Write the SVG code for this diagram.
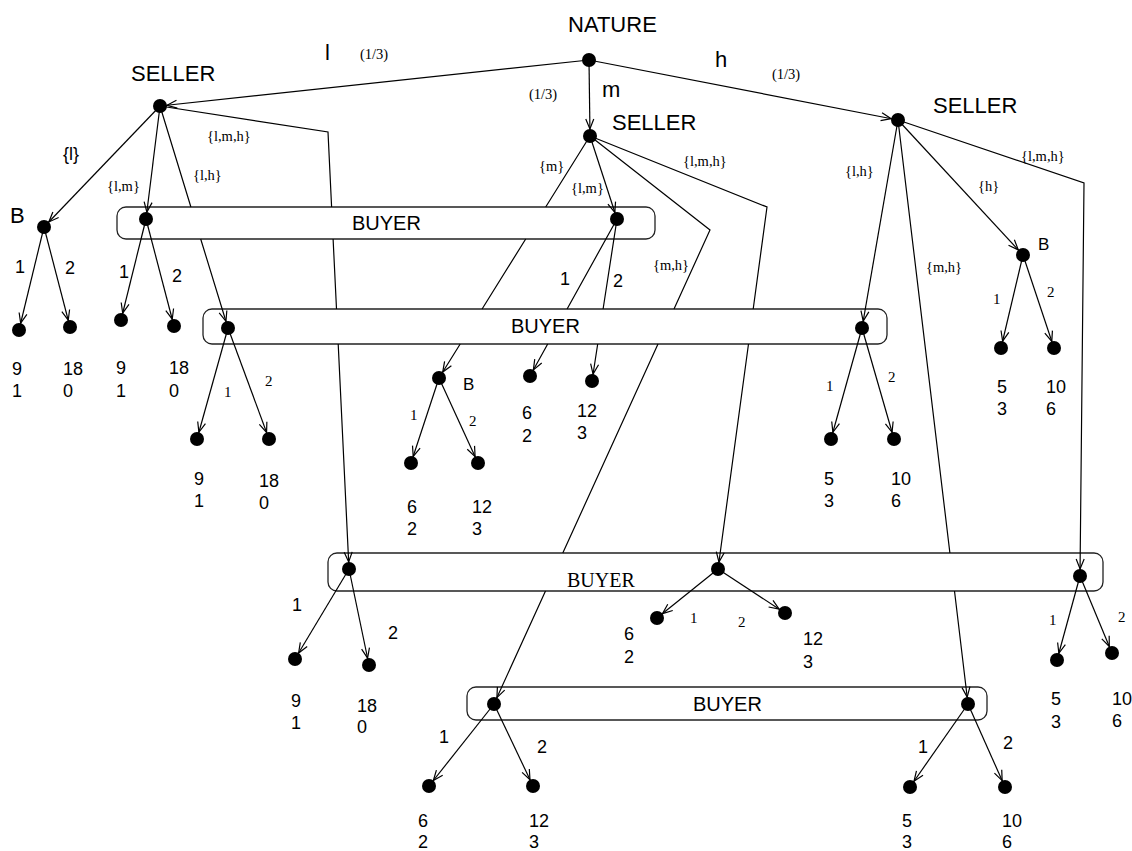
<svg xmlns="http://www.w3.org/2000/svg" width="1132" height="851" viewBox="0 0 1132 851">
<style>
.e{fill:none;stroke:#000;stroke-width:1.2}
.a{fill:none;stroke:#000;stroke-width:1.2;marker-end:url(#arr)}
.n{fill:#000}
.box{fill:none;stroke:#222;stroke-width:1.3}
.big{font-family:"Liberation Sans",Arial,sans-serif;font-size:22px;fill:#000}
.mid{font-family:"Liberation Sans",Arial,sans-serif;font-size:18px;fill:#000}
.buy{font-family:"Liberation Sans",Arial,sans-serif;font-size:20px;fill:#000}
.bs{font-family:"Liberation Sans",Arial,sans-serif;font-size:17px;fill:#000}
.s{font-family:"Liberation Serif","Times New Roman",serif;font-size:14.5px;fill:#000}
.sd{font-family:"Liberation Serif","Times New Roman",serif;font-size:15px;fill:#000}
.sb{font-family:"Liberation Serif","Times New Roman",serif;font-size:20px;fill:#000}
</style>
<defs>
<marker id="arr" markerUnits="userSpaceOnUse" markerWidth="20" markerHeight="12" viewBox="-12 -6 20 12" refX="7" refY="0" orient="auto" overflow="visible">
<path d="M-10,-4 L0,0 L-10,4" fill="none" stroke="#000" stroke-width="1.2"/>
</marker>
</defs>

<g id="infosets">
<rect id="buyer1" class="box" x="117" y="207" width="538" height="32" rx="9"/>
<rect id="buyer2" class="box" x="203" y="309" width="684" height="35" rx="9"/>
<rect id="buyer3" class="box" x="328" y="553" width="775" height="38" rx="9"/>
<rect id="buyer4" class="box" x="467" y="687" width="520" height="33" rx="9"/>
<text class="buy" x="352" y="230">BUYER</text>
<text class="buy" x="511" y="333">BUYER</text>
<text class="sb" x="567" y="587">BUYER</text>
<text class="buy" x="693" y="711">BUYER</text>
</g>

<g id="connectors">
<path class="a" d="M589,60 L160,106"/>
<path class="a" d="M589,60 L590,136"/>
<path class="a" d="M589,60 L898,120"/>
<path class="a" d="M160,106 L44,227"/>
<path class="a" d="M160,106 L146,219"/>
<path class="a" d="M160,106 L190.9,207 M200.7,239 L228,328"/>
<path class="a" d="M160,106 L328,132 L331.6,207 M333.1,239 L336.5,309 M338.2,344 L349,569"/>
<path class="a" d="M590,136 L545.7,207 M525.7,239 L482.1,309 M460.2,344 L439,378"/>
<path class="a" d="M590,136 L617,219"/>
<path class="a" d="M590,136 L710,230 L674,309 M658,344 L562.8,553 M545.5,591 L494,704"/>
<path class="a" d="M590,136 L767,207 L753.2,309 M748.5,344 L718,569"/>
<path class="a" d="M617,219 L567.1,309 M547.7,344 L530,376"/>
<path class="a" d="M617,219 L603.1,309 M597.7,344 L592,381"/>
<path class="a" d="M898,120 L862,328"/>
<path class="a" d="M898,120 L949.9,553 M954.5,591 L968,704"/>
<path class="a" d="M898,120 L1023,255"/>
<path class="a" d="M898,120 L1084,183 L1080,576"/>
<path class="a" d="M44,227 L19,330"/>
<path class="a" d="M44,227 L70,327"/>
<path class="a" d="M146,219 L121,320"/>
<path class="a" d="M146,219 L174,326"/>
<path class="a" d="M228,328 L197,439"/>
<path class="a" d="M228,328 L269,439"/>
<path class="a" d="M439,378 L411,463"/>
<path class="a" d="M439,378 L478,463"/>
<path class="a" d="M1023,255 L1001,348"/>
<path class="a" d="M1023,255 L1054,348"/>
<path class="a" d="M862,328 L831,439"/>
<path class="a" d="M862,328 L894,439"/>
<path class="a" d="M349,569 L295,659"/>
<path class="a" d="M349,569 L369,665"/>
<path class="a" d="M718,569 L657,618"/>
<path class="a" d="M718,569 L785,613"/>
<path class="a" d="M1080,576 L1057,660"/>
<path class="a" d="M1080,576 L1112,653"/>
<path class="a" d="M494,704 L429,786"/>
<path class="a" d="M494,704 L533,786"/>
<path class="a" d="M968,704 L910,787"/>
<path class="a" d="M968,704 L1005,787"/>
</g>

<g id="edge-labels">
<text class="big" x="325" y="60">l</text>
<text class="s" x="360" y="59">(1/3)</text>
<text class="big" x="602" y="97">m</text>
<text class="s" x="529" y="99">(1/3)</text>
<text class="big" x="715" y="67">h</text>
<text class="s" x="772" y="79">(1/3)</text>
<text class="mid" x="63" y="160">{l}</text>
<text class="s" x="107" y="191">{l,m}</text>
<text class="s" x="193" y="180">{l,h}</text>
<text class="s" x="207" y="141">{l,m,h}</text>
<text class="s" x="539" y="171">{m}</text>
<text class="s" x="571" y="193">{l,m}</text>
<text class="s" x="683" y="166">{l,m,h}</text>
<text class="s" x="653" y="270">{m,h}</text>
<text class="s" x="845" y="176">{l,h}</text>
<text class="s" x="978" y="191">{h}</text>
<text class="s" x="1021" y="161">{l,m,h}</text>
<text class="s" x="926" y="272">{m,h}</text>
<text class="mid" x="15" y="273">1</text>
<text class="mid" x="65" y="274">2</text>
<text class="mid" x="119" y="278">1</text>
<text class="mid" x="172" y="282">2</text>
<text class="sd" x="224" y="397">1</text>
<text class="sd" x="265" y="386">2</text>
<text class="mid" x="560" y="285">1</text>
<text class="mid" x="613" y="287">2</text>
<text class="sd" x="410" y="420">1</text>
<text class="sd" x="469" y="426">2</text>
<text class="sd" x="993" y="304">1</text>
<text class="sd" x="1047" y="297">2</text>
<text class="sd" x="826" y="391">1</text>
<text class="sd" x="888" y="382">2</text>
<text class="mid" x="292" y="611">1</text>
<text class="mid" x="388" y="639">2</text>
<text class="sd" x="690" y="623">1</text>
<text class="sd" x="738" y="627">2</text>
<text class="sd" x="1049" y="625">1</text>
<text class="sd" x="1118" y="622">2</text>
<text class="mid" x="439" y="743">1</text>
<text class="mid" x="537" y="753">2</text>
<text class="mid" x="918" y="753">1</text>
<text class="mid" x="1003" y="749">2</text>
</g>

<g id="nature"><circle class="n" cx="589" cy="60" r="7"/><text class="big" x="568" y="32">NATURE</text></g>
<g id="seller-l"><circle class="n" cx="160" cy="106" r="7"/><text class="big" x="131" y="81">SELLER</text></g>
<g id="seller-m"><circle class="n" cx="590" cy="136" r="7"/><text class="big" x="612" y="130">SELLER</text></g>
<g id="seller-h"><circle class="n" cx="898" cy="120" r="7"/><text class="big" x="933" y="113">SELLER</text></g>
<g id="b-l"><circle class="n" cx="44" cy="227" r="7"/><text class="big" x="10" y="223">B</text></g>
<g id="b-m"><circle class="n" cx="439" cy="378" r="7"/><text class="bs" x="463" y="390">B</text></g>
<g id="b-h"><circle class="n" cx="1023" cy="255" r="7"/><text class="bs" x="1038" y="250">B</text></g>
<g id="buyer1-lm-l"><circle class="n" cx="146" cy="219" r="7"/></g>
<g id="buyer1-lm-m"><circle class="n" cx="617" cy="219" r="7"/></g>
<g id="buyer2-lh-l"><circle class="n" cx="228" cy="328" r="7"/></g>
<g id="buyer2-lh-h"><circle class="n" cx="862" cy="328" r="7"/></g>
<g id="buyer3-lmh-l"><circle class="n" cx="349" cy="569" r="7"/></g>
<g id="buyer3-lmh-m"><circle class="n" cx="718" cy="569" r="7"/></g>
<g id="buyer3-lmh-h"><circle class="n" cx="1080" cy="576" r="7"/></g>
<g id="buyer4-mh-m"><circle class="n" cx="494" cy="704" r="7"/></g>
<g id="buyer4-mh-h"><circle class="n" cx="968" cy="704" r="7"/></g>

<g id="leaf1"><circle class="n" cx="19" cy="330" r="7"/><text class="mid" x="12" y="375">9</text><text class="mid" x="12" y="397">1</text></g>
<g id="leaf2"><circle class="n" cx="70" cy="327" r="7"/><text class="mid" x="63" y="375">18</text><text class="mid" x="63" y="397">0</text></g>
<g id="leaf3"><circle class="n" cx="121" cy="320" r="7"/><text class="mid" x="116" y="374">9</text><text class="mid" x="116" y="397">1</text></g>
<g id="leaf4"><circle class="n" cx="174" cy="326" r="7"/><text class="mid" x="169" y="374">18</text><text class="mid" x="169" y="397">0</text></g>
<g id="leaf5"><circle class="n" cx="197" cy="439" r="7"/><text class="mid" x="194" y="485">9</text><text class="mid" x="194" y="507">1</text></g>
<g id="leaf6"><circle class="n" cx="269" cy="439" r="7"/><text class="mid" x="259" y="487">18</text><text class="mid" x="259" y="509">0</text></g>
<g id="leaf7"><circle class="n" cx="411" cy="463" r="7"/><text class="mid" x="407" y="513">6</text><text class="mid" x="407" y="535">2</text></g>
<g id="leaf8"><circle class="n" cx="478" cy="463" r="7"/><text class="mid" x="472" y="513">12</text><text class="mid" x="472" y="535">3</text></g>
<g id="leaf9"><circle class="n" cx="530" cy="376" r="7"/><text class="mid" x="522" y="419">6</text><text class="mid" x="522" y="442">2</text></g>
<g id="leaf10"><circle class="n" cx="592" cy="381" r="7"/><text class="mid" x="577" y="417">12</text><text class="mid" x="577" y="439">3</text></g>
<g id="leaf11"><circle class="n" cx="1001" cy="348" r="7"/><text class="mid" x="997" y="393">5</text><text class="mid" x="997" y="415">3</text></g>
<g id="leaf12"><circle class="n" cx="1054" cy="348" r="7"/><text class="mid" x="1046" y="393">10</text><text class="mid" x="1046" y="415">6</text></g>
<g id="leaf13"><circle class="n" cx="831" cy="439" r="7"/><text class="mid" x="824" y="485">5</text><text class="mid" x="824" y="507">3</text></g>
<g id="leaf14"><circle class="n" cx="894" cy="439" r="7"/><text class="mid" x="891" y="485">10</text><text class="mid" x="891" y="507">6</text></g>
<g id="leaf15"><circle class="n" cx="295" cy="659" r="7"/><text class="mid" x="291" y="707">9</text><text class="mid" x="291" y="729">1</text></g>
<g id="leaf16"><circle class="n" cx="369" cy="665" r="7"/><text class="mid" x="357" y="712">18</text><text class="mid" x="357" y="733">0</text></g>
<g id="leaf17"><circle class="n" cx="657" cy="618" r="7"/><text class="mid" x="624" y="640">6</text><text class="mid" x="624" y="663">2</text></g>
<g id="leaf18"><circle class="n" cx="785" cy="613" r="7"/><text class="mid" x="803" y="645">12</text><text class="mid" x="803" y="668">3</text></g>
<g id="leaf19"><circle class="n" cx="1057" cy="660" r="7"/><text class="mid" x="1051" y="705">5</text><text class="mid" x="1051" y="728">3</text></g>
<g id="leaf20"><circle class="n" cx="1112" cy="653" r="7"/><text class="mid" x="1112" y="705">10</text><text class="mid" x="1112" y="727">6</text></g>
<g id="leaf21"><circle class="n" cx="429" cy="786" r="7"/><text class="mid" x="418" y="827">6</text><text class="mid" x="418" y="848">2</text></g>
<g id="leaf22"><circle class="n" cx="533" cy="786" r="7"/><text class="mid" x="529" y="827">12</text><text class="mid" x="529" y="848">3</text></g>
<g id="leaf23"><circle class="n" cx="910" cy="787" r="7"/><text class="mid" x="902" y="827">5</text><text class="mid" x="902" y="848">3</text></g>
<g id="leaf24"><circle class="n" cx="1005" cy="787" r="7"/><text class="mid" x="1002" y="827">10</text><text class="mid" x="1002" y="848">6</text></g>
</svg>
